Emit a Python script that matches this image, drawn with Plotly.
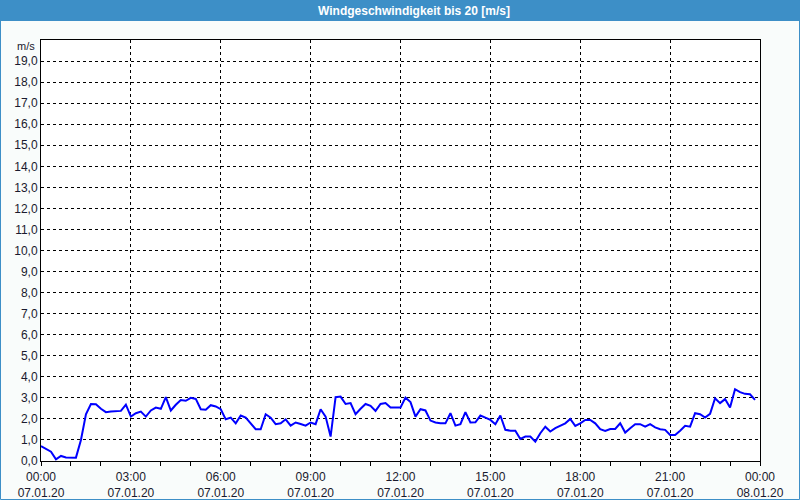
import plotly.graph_objects as go
import pandas as pd

title_text = "Windgeschwindigkeit bis 20 [m/s]"
unit_label = "m/s"
start_time = "2020-01-07 00:00"
step_minutes = 10

wind_speed = [
    0.71, 0.57, 0.44, 0.08, 0.24, 0.17, 0.16, 0.16, 1.0, 2.22,
    2.71, 2.7, 2.48, 2.32, 2.35, 2.36, 2.38, 2.68, 2.11, 2.27,
    2.35, 2.11, 2.4, 2.54, 2.48, 3.03, 2.4, 2.67, 2.9, 2.86,
    3.0, 2.95, 2.46, 2.44, 2.65, 2.59, 2.46, 1.98, 2.06, 1.79,
    2.16, 2.06, 1.79, 1.51, 1.51, 2.22, 2.06, 1.75, 1.79, 1.98,
    1.68, 1.83, 1.76, 1.68, 1.83, 1.75, 2.46, 2.11, 1.16, 3.03,
    3.06, 2.71, 2.75, 2.22, 2.48, 2.71, 2.62, 2.38, 2.71, 2.75,
    2.54, 2.54, 2.54, 3.01, 2.8, 2.11, 2.46, 2.4, 1.92, 1.83,
    1.79, 1.79, 2.27, 1.68, 1.75, 2.32, 1.83, 1.84, 2.16, 2.06,
    1.95, 1.75, 2.16, 1.48, 1.44, 1.44, 1.05, 1.16, 1.16, 0.92,
    1.32, 1.63, 1.4, 1.56, 1.67, 1.79, 2.0, 1.67, 1.79, 1.95,
    1.95, 1.79, 1.51, 1.43, 1.52, 1.52, 1.79, 1.35, 1.56, 1.75,
    1.75, 1.63, 1.75, 1.6, 1.51, 1.48, 1.24, 1.24, 1.44, 1.67,
    1.63, 2.27, 2.22, 2.06, 2.24, 2.98, 2.75, 2.94, 2.54, 3.41,
    3.27, 3.19, 3.17, 2.9,
]

x_tick_times = ["2020-01-07 00:00", "2020-01-07 03:00", "2020-01-07 06:00",
                "2020-01-07 09:00", "2020-01-07 12:00", "2020-01-07 15:00",
                "2020-01-07 18:00", "2020-01-07 21:00", "2020-01-08 00:00"]
x_tick_labels = ["00:00<br>07.01.20", "03:00<br>07.01.20", "06:00<br>07.01.20",
                 "09:00<br>07.01.20", "12:00<br>07.01.20", "15:00<br>07.01.20",
                 "18:00<br>07.01.20", "21:00<br>07.01.20", "00:00<br>08.01.20"]
y_tick_vals = list(range(0, 20))
y_tick_labels = [f"{v},0" for v in y_tick_vals]

times = pd.date_range(start_time, periods=len(wind_speed), freq=f"{step_minutes}min")

W, H = 800, 500
L, R, T, B = 41, 40, 40, 39
pw, ph = W - L - R, H - T - B

def px_x(p):
    return (p - L) / pw

def px_y(p):
    return (H - B - p) / ph

font_fam = "Liberation Sans, Arial, sans-serif"
text_col = "#1a1a2e"

fig = go.Figure()
fig.add_trace(go.Scatter(x=times, y=wind_speed, mode="lines",
                         line=dict(color="#0000ff", width=2), hoverinfo="skip"))

fig.update_layout(
    width=W, height=H,
    margin=dict(l=L, r=R, t=T, b=B, autoexpand=False),
    paper_bgcolor="#f9fcfb",
    plot_bgcolor="#ffffff",
    showlegend=False,
    font=dict(family=font_fam, size=12, color=text_col),
    xaxis=dict(
        range=[x_tick_times[0], x_tick_times[-1]],
        tickvals=x_tick_times, ticktext=x_tick_labels,
        showgrid=True, gridcolor="#000000", griddash="3px,3px", gridwidth=1,
        showline=True, linecolor="#000000", linewidth=1, mirror=True,
        ticks="outside", ticklen=4, tickcolor="#000000",
        ticklabelstandoff=1, automargin=False,
        minor=dict(dtick=3600000, ticks="outside", ticklen=4, tickcolor="#000000", showgrid=False),
        zeroline=False, fixedrange=True,
    ),
    yaxis=dict(
        range=[0, 20],
        tickvals=y_tick_vals, ticktext=y_tick_labels,
        showgrid=True, gridcolor="#000000", griddash="3px,3px", gridwidth=1,
        showline=True, linecolor="#000000", linewidth=1, mirror=True,
        ticks="", zeroline=False, fixedrange=True, automargin=False,
    ),
    shapes=[
        dict(type="rect", xref="paper", yref="paper",
             x0=px_x(0), x1=px_x(W), y0=px_y(21), y1=px_y(0),
             fillcolor="#3d8fc7", line=dict(width=0), layer="above"),
        dict(type="rect", xref="paper", yref="paper",
             x0=px_x(0.5), x1=px_x(W - 0.5), y0=px_y(H - 0.5), y1=px_y(0.5),
             fillcolor="rgba(0,0,0,0)", line=dict(color="#3d8fc7", width=1), layer="above"),
    ],
    annotations=[
        dict(text=f"<b>{title_text}</b>", xref="paper", yref="paper",
             x=px_x(414), y=px_y(10.5), xanchor="center", yanchor="middle",
             showarrow=False, font=dict(color="#ffffff", size=12, family=font_fam)),
        dict(text=unit_label, xref="paper", yref="paper",
             x=px_x(37), y=px_y(46), xanchor="right", yanchor="middle",
             showarrow=False, font=dict(size=11, color=text_col, family=font_fam)),
    ],
)

fig.write_html("out.html")
